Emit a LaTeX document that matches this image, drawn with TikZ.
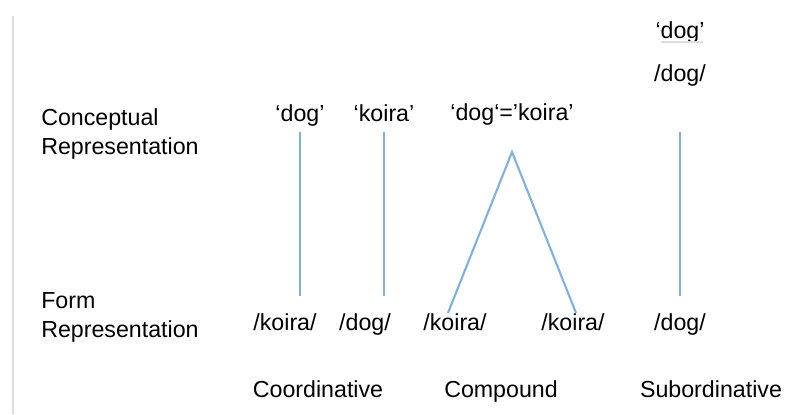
\documentclass[tikz,border=0pt]{standalone}
\usepackage{fontspec}
\setmainfont{Liberation Sans}
\usetikzlibrary{positioning}
\definecolor{linkblue}{HTML}{7EB2E0}
\definecolor{edgegray}{HTML}{DDDDDD}
\tikzstyle{word} = [inner sep=0pt, text height=12pt, text depth=3.5pt, yshift=-1.5pt, font=\fontsize{16.5}{20}\selectfont]
\tikzstyle{level} = [inner sep=0pt, anchor=west, align=left, yshift=-1.5pt, font=\fontsize{16.5}{20.5}\selectfont]
\tikzstyle{link} = [linkblue, line width=1.5pt]

\begin{document}
\begin{tikzpicture}[x=0.025cm, y=-0.025cm]
    \useasboundingbox (0,0) rectangle (800,414);
    \fill [white] (0,0) rectangle (800,414);
    \draw [edgegray, line width=1.5pt] (13,16)--(13,414);
    % row labels
    \node (concept) [level] at (41,132) {Conceptual\\Representation};
    \node (form) [level] at (41,315) {Form\\Representation};
    % meanings
    \node (dogC) [word] at (300,113) {‘dog’};
    \node (koiraC) [word] at (384,113) {‘koira’};
    \node (bothC) [word] at (512,112) {‘dog‘=’koira’};
    \node (dogS) [word] at (680,30) {‘dog’};
    \draw [edgegray, line width=1pt] ([xshift=4pt,yshift=1pt]dogS.south west)--([xshift=-1pt,yshift=1pt]dogS.south east);
    \node (dogSF) [word] at (680,73) {/dog/};
    % forms
    \node (koiraF1) [word] at (285,322) {/koira/};
    \node (dogF1) [word] at (365,322) {/dog/};
    \node (koiraF2) [word] at (455,322) {/koira/};
    \node (koiraF3) [word] at (573,322) {/koira/};
    \node (dogF2) [word] at (680,322) {/dog/};
    % bilingual types
    \node (coord) [word] at (318,389) {Coordinative};
    \node (comp) [word] at (501,389) {Compound};
    \node (sub) [word] at (711,389) {Subordinative};
    % links
    \coordinate (apex) at (512,152);
    \draw [link] (dogC.south |- 0,132)--(dogC.south |- 0,296);
    \draw [link] (koiraC.south |- 0,132)--(koiraC.south |- 0,296);
    \draw [link] (koiraF2.north -| 448,0)--(apex)--(koiraF3.north -| 576,0);
    \draw [link] (dogF2.north |- 0,132)--(dogF2.north |- 0,296);
\end{tikzpicture}
\end{document}
